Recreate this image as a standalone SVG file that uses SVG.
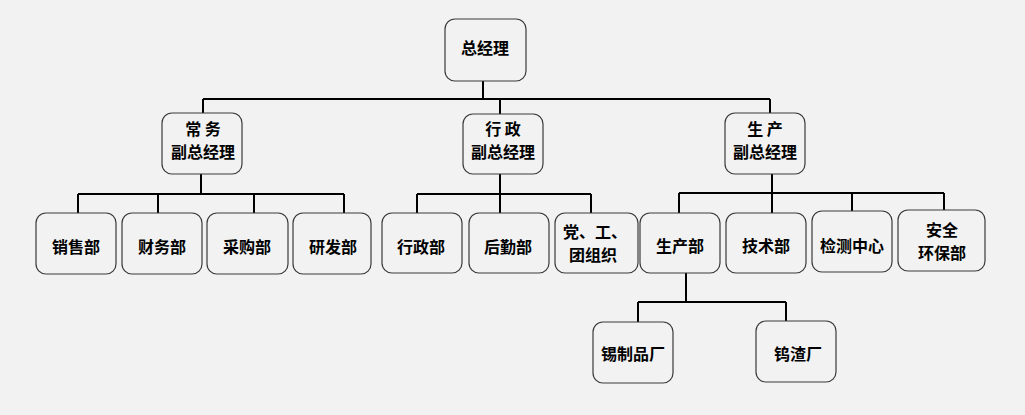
<svg xmlns="http://www.w3.org/2000/svg" width="1025" height="415" viewBox="0 0 1025 415">
<style>
.b{fill:#f2f2f2;stroke:#3a3a3a;stroke-width:1.2}
.t{font-family:"Noto Sans CJK SC","Noto Sans CJK JP",sans-serif;font-weight:bold;font-size:16px;fill:#000;text-anchor:middle;dominant-baseline:central}
.c{fill:none;stroke:#000;stroke-width:2}
</style>
<rect width="1025" height="415" fill="#f2f2f2"/>
<g id="connectors">
<path class="c" d="M483 81V99M203 99H770M203 99V113M500 99V114M770 99V113"/>
<path class="c" d="M201 174V194M78 194H344M78 194V213M158 194V213M254 194V213M344 194V213"/>
<path class="c" d="M500 174V194M417 194H591M417 194V213M500 194V213M591 194V213"/>
<path class="c" d="M772 174V193M679 193H944M679 193V213M772 193V213M852 193V211M944 193V210"/>
<path class="c" d="M686 273V302M638 302H786M638 302V322M786 302V321"/>
</g>
<g id="n-zjl"><rect class="b" x="445" y="19" width="81" height="62" rx="10"/><text class="t" x="485" y="47">总经理</text></g>
<g id="n-cw"><rect class="b" x="162" y="113" width="80" height="61" rx="10"/><text class="t" x="203" y="128" xml:space="preserve">常 务</text><text class="t" x="203" y="151">副总经理</text></g>
<g id="n-xz"><rect class="b" x="463" y="114" width="80" height="60" rx="10"/><text class="t" x="503" y="128" xml:space="preserve">行 政</text><text class="t" x="503" y="151">副总经理</text></g>
<g id="n-sc"><rect class="b" x="725" y="113" width="80" height="61" rx="10"/><text class="t" x="765" y="128" xml:space="preserve">生 产</text><text class="t" x="765" y="151">副总经理</text></g>
<g id="n-xs"><rect class="b" x="36" y="213" width="80" height="61" rx="10"/><text class="t" x="76" y="246">销售部</text></g>
<g id="n-cwb"><rect class="b" x="122" y="213" width="80" height="61" rx="10"/><text class="t" x="162" y="246">财务部</text></g>
<g id="n-cg"><rect class="b" x="207" y="213" width="81" height="61" rx="10"/><text class="t" x="247" y="246">采购部</text></g>
<g id="n-yf"><rect class="b" x="293" y="213" width="78" height="61" rx="10"/><text class="t" x="333" y="246">研发部</text></g>
<g id="n-xzb"><rect class="b" x="382" y="213" width="80" height="60" rx="10"/><text class="t" x="421" y="246">行政部</text></g>
<g id="n-hq"><rect class="b" x="469" y="213" width="80" height="60" rx="10"/><text class="t" x="508" y="246">后勤部</text></g>
<g id="n-dgt"><rect class="b" x="555" y="213" width="83" height="60" rx="10"/><text class="t" x="595" y="231">党、工、</text><text class="t" x="593" y="254">团组织</text></g>
<g id="n-scb"><rect class="b" x="640" y="213" width="80" height="60" rx="10"/><text class="t" x="680" y="245">生产部</text></g>
<g id="n-js"><rect class="b" x="726" y="213" width="80" height="60" rx="10"/><text class="t" x="766" y="245">技术部</text></g>
<g id="n-jc"><rect class="b" x="812" y="211" width="80" height="61" rx="10"/><text class="t" x="852" y="245">检测中心</text></g>
<g id="n-aq"><rect class="b" x="898" y="210" width="87" height="61" rx="10"/><text class="t" x="942" y="229">安全</text><text class="t" x="942" y="252">环保部</text></g>
<g id="n-xzp"><rect class="b" x="593" y="322" width="80" height="61" rx="10"/><text class="t" x="633" y="353">锡制品厂</text></g>
<g id="n-wz"><rect class="b" x="756" y="321" width="80" height="61" rx="10"/><text class="t" x="798" y="353">钨渣厂</text></g>
</svg>
